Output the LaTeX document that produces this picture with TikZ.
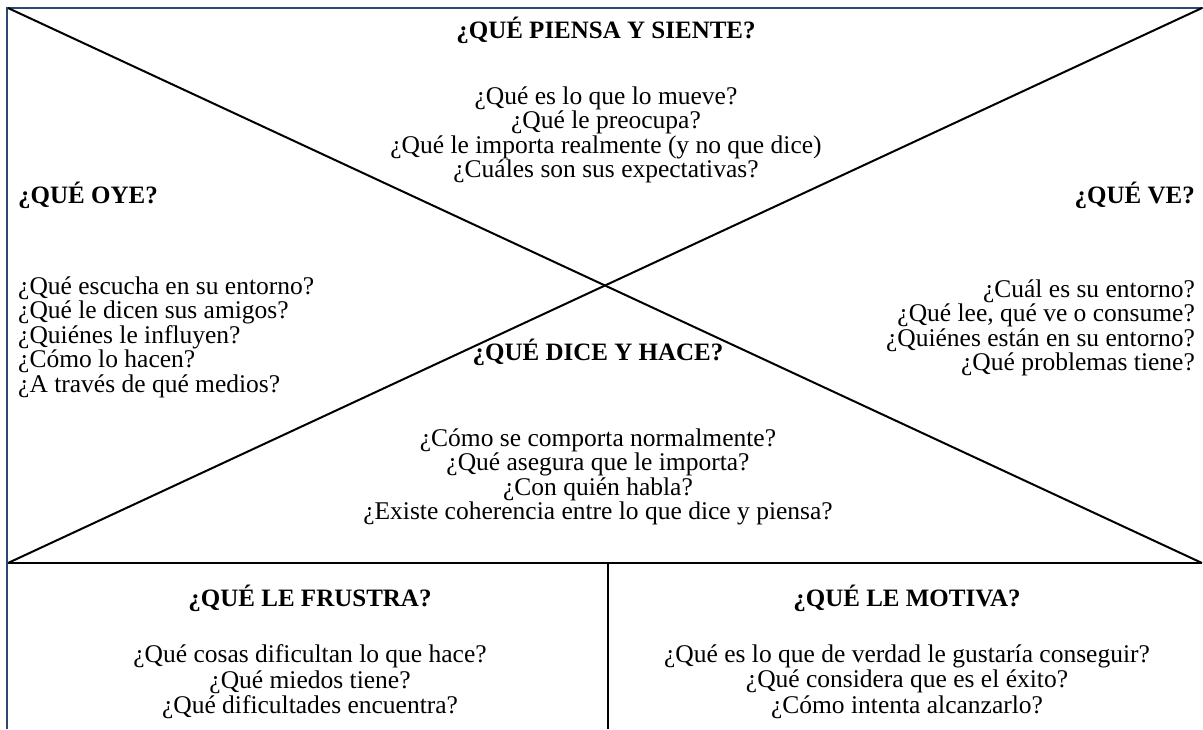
\documentclass[tikz,border=0pt]{standalone}
\usepackage{fontspec}
\setmainfont{Liberation Serif}
\usetikzlibrary{positioning}
\definecolor{marco}{RGB}{47,69,115}

\begin{document}
\begin{tikzpicture}[
  x=1pt, y=-1pt,
  every node/.style={inner sep=0pt},
  titulo/.style={font=\fontsize{25}{27}\selectfont\bfseries},
  pregunta/.style={font=\fontsize{25.5}{24.5}\selectfont, align=center},
  linea/.style={line width=2pt, black},
  borde/.style={line width=2pt, marco}
]
  \useasboundingbox (0,0) rectangle (1203,729);

  % esquinas del mapa
  \coordinate (so) at (8,8);
  \coordinate (se) at (1202,8);
  \coordinate (io) at (8,563);
  \coordinate (ie) at (1202,563);
  \coordinate (mi) at (608,563);
  \coordinate (mb) at (608,729);
  \coordinate (bd) at (1203,8);
  \coordinate (bb) at (7,729);

  \draw[borde] (bd) -- (7,8) -- (bb);
  \draw[linea] (so) -- (ie);
  \draw[linea] (io) -- (se);
  \draw[linea] (io) -- (ie);
  \draw[linea] (mi) -- (mb);

  % arriba
  \node[titulo] (piensa) at (606,30) {¿QUÉ PIENSA Y SIENTE?};
  \node[pregunta, below=43pt of piensa] (piensaTxt) {¿Qué es lo que lo mueve?\\¿Qué le preocupa?\\¿Qué le importa realmente (y no que dice)\\¿Cuáles son sus expectativas?};

  % izquierda
  \node[titulo, anchor=west] (oye) at (18,195) {¿QUÉ OYE?};
  \node[pregunta, align=left, below=68pt of oye.south west, anchor=north west] (oyeTxt) {¿Qué escucha en su entorno?\\¿Qué le dicen sus amigos?\\¿Quiénes le influyen?\\¿Cómo lo hacen?\\¿A través de qué medios?};

  % derecha
  \node[titulo, anchor=east] (ve) at (1195,195) {¿QUÉ VE?};
  \node[pregunta, align=right, below=71pt of ve.south east, anchor=north east] (veTxt) {¿Cuál es su entorno?\\¿Qué lee, qué ve o consume?\\¿Quiénes están en su entorno?\\¿Qué problemas tiene?};

  % abajo
  \node[titulo] (dice) at (598,352) {¿QUÉ DICE Y HACE?};
  \node[pregunta, below=63pt of dice] (diceTxt) {¿Cómo se comporta normalmente?\\¿Qué asegura que le importa?\\¿Con quién habla?\\¿Existe coherencia entre lo que dice y piensa?};

  % franja inferior
  \node[titulo] (frustra) at (310,598) {¿QUÉ LE FRUSTRA?};
  \node[pregunta, below=33pt of frustra, font=\fontsize{25.5}{25.5}\selectfont] (frustraTxt) {¿Qué cosas dificultan lo que hace?\\¿Qué miedos tiene?\\¿Qué dificultades encuentra?};

  \node[titulo] (motiva) at (907,598) {¿QUÉ LE MOTIVA?};
  \node[pregunta, below=33pt of motiva, font=\fontsize{25.5}{25.5}\selectfont] (motivaTxt) {¿Qué es lo que de verdad le gustaría conseguir?\\¿Qué considera que es el éxito?\\¿Cómo intenta alcanzarlo?};
\end{tikzpicture}
\end{document}
